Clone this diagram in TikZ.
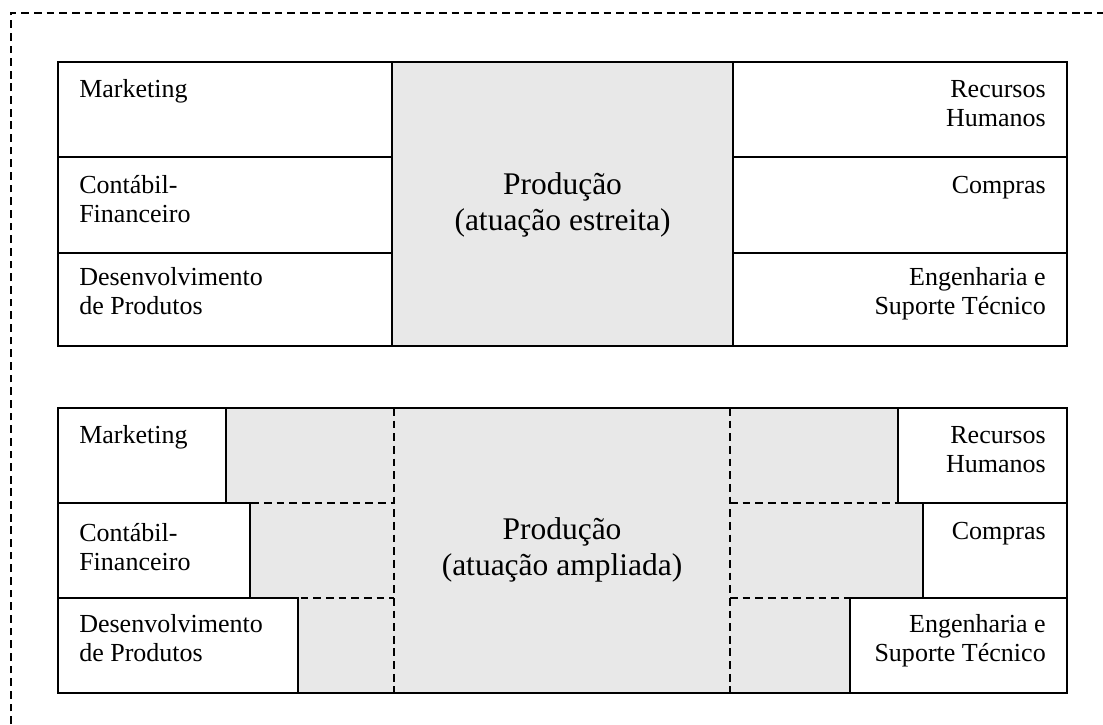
\documentclass[tikz,border=0pt]{standalone}
\usepackage{fontspec}
\setmainfont{Liberation Serif}
\usetikzlibrary{positioning}

\begin{document}
\begin{tikzpicture}[x=0.025cm,y=-0.025cm,
	caixa/.style={draw,line width=1.4pt},
	tracejado/.style={line width=0.9pt,dash pattern=on 5.5pt off 3.5pt},
	esq/.style={anchor=base west,align=left,inner sep=0pt,font=\fontsize{18.5}{20}\selectfont},
	dir/.style={anchor=base east,align=right,inner sep=0pt,font=\fontsize{18.5}{20}\selectfont},
	centro/.style={align=center,inner sep=0pt,font=\fontsize{22.4}{25.6}\selectfont}]
		\useasboundingbox (0,0) rectangle (1103,724);
		\draw[tracejado] (11,724) -- (11,13) -- (1110,13);

		\fill[black!9] (392,62) rectangle (733,346);
		\draw[caixa] (58,62) rectangle (392,157);
		\draw[caixa] (58,157) rectangle (392,253);
		\draw[caixa] (58,253) rectangle (392,346);
		\draw[caixa] (733,62) rectangle (1067,157);
		\draw[caixa] (733,157) rectangle (1067,253);
		\draw[caixa] (733,253) rectangle (1067,346);
		\draw[caixa] (58,62) rectangle (1067,346);
		\node[esq] (mkt1) at (79,97) {Marketing};
		\node[esq] (cont1) at (79,222) {Contábil-\\Financeiro};
		\node[esq] (desenv1) at (79,314) {Desenvolvimento\\de Produtos};
		\node[dir] (rh1) at (1046,126) {Recursos\\Humanos};
		\node[dir] (compras1) at (1046,193) {Compras};
		\node[dir] (eng1) at (1046,314) {Engenharia e\\Suporte Técnico};
		\node[centro] (prod1) at (562.5,205) {Produção\\(atuação estreita)};

		\fill[black!9] (58,408) rectangle (1067,693);
		\draw[tracejado] (394,408) -- (394,693);
		\draw[tracejado] (730,408) -- (730,693);
		\draw[tracejado] (226,503) -- (394,503);
		\draw[tracejado] (250,598) -- (394,598);
		\draw[tracejado] (730,503) -- (898,503);
		\draw[tracejado] (730,598) -- (850,598);
		\draw[caixa,fill=white] (58,408) rectangle (226,503);
		\draw[caixa,fill=white] (58,503) rectangle (250,598);
		\draw[caixa,fill=white] (58,598) rectangle (298,693);
		\draw[caixa,fill=white] (898,408) rectangle (1067,503);
		\draw[caixa,fill=white] (923,503) rectangle (1067,598);
		\draw[caixa,fill=white] (850,598) rectangle (1067,693);
		\draw[caixa] (58,408) rectangle (1067,693);
		\node[esq] (mkt2) at (79,443) {Marketing};
		\node[esq] (cont2) at (79,570) {Contábil-\\Financeiro};
		\node[esq] (desenv2) at (79,661) {Desenvolvimento\\de Produtos};
		\node[dir] (rh2) at (1046,472) {Recursos\\Humanos};
		\node[dir] (compras2) at (1046,539) {Compras};
		\node[dir] (eng2) at (1046,661) {Engenharia e\\Suporte Técnico};
		\node[centro] (prod2) at (562,550) {Produção\\(atuação ampliada)};
	\end{tikzpicture}
\end{document}
